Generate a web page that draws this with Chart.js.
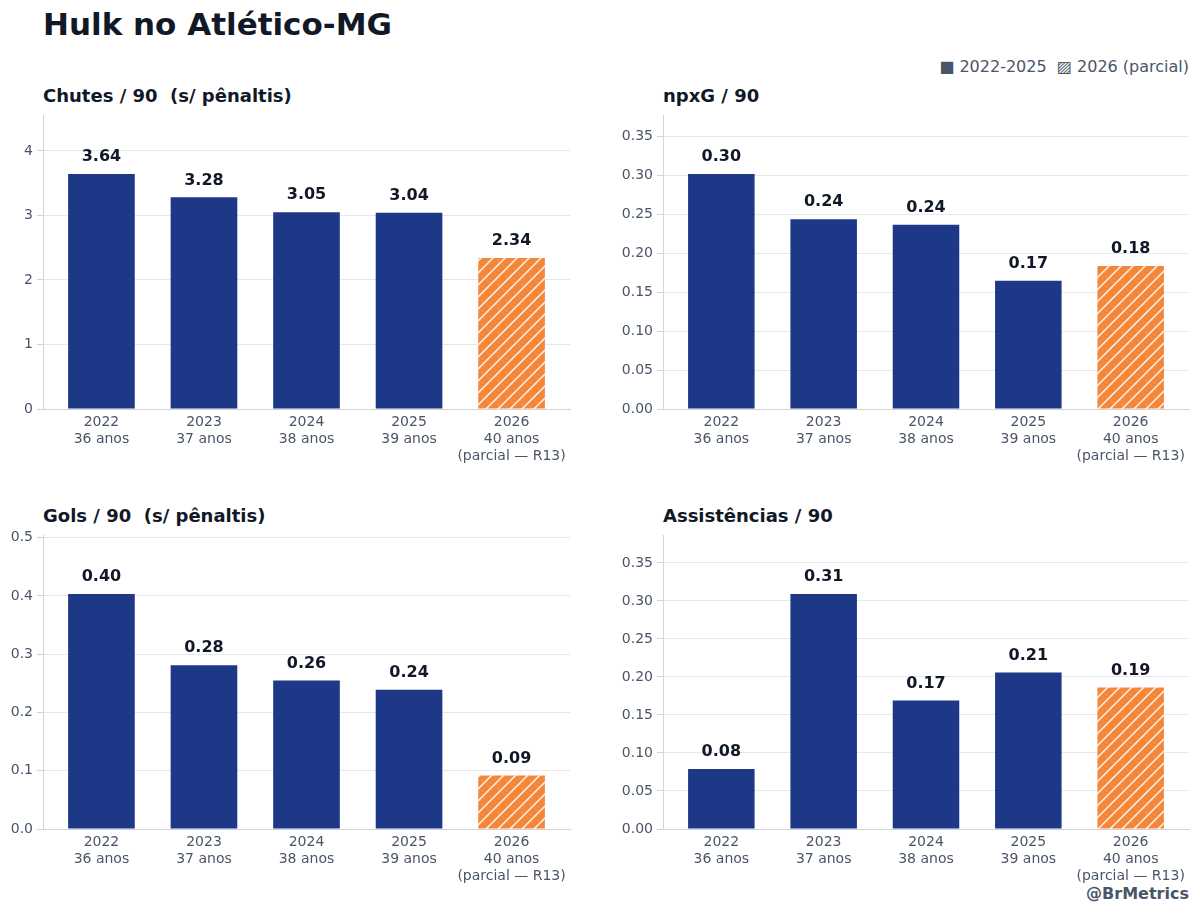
<!DOCTYPE html>
<html><head><meta charset="utf-8">
<script src="https://cdn.jsdelivr.net/npm/chart.js@4.4.1/dist/chart.umd.min.js"></script>
<style>
body{margin:0;width:1200px;height:914px;background:#fff;position:relative;font-family:"DejaVu Sans",sans-serif;overflow:hidden}
.t{position:absolute;color:#111827;font-weight:bold}
canvas{position:absolute}
</style></head><body>
<div class="t" style="left:43px;top:6px;font-size:31px">Hulk no Atlético-MG</div>
<div style="position:absolute;right:11px;top:57px;font-size:16px;color:#4a5568">■ 2022-2025 &nbsp;▨ 2026 (parcial)</div>
<div class="t" style="left:43px;top:85px;font-size:18px">Chutes / 90 &nbsp;(s/ pênaltis)</div>
<div class="t" style="left:663px;top:85px;font-size:18px">npxG / 90</div>
<div class="t" style="left:43px;top:505px;font-size:18px">Gols / 90 &nbsp;(s/ pênaltis)</div>
<div class="t" style="left:663px;top:505px;font-size:18px">Assistências / 90</div>
<div style="position:absolute;right:11px;top:884px;font-size:16px;font-weight:bold;color:#4a5568">@BrMetrics</div>
<canvas id="c1" style="left:0;top:103px" width="580" height="367"></canvas>
<canvas id="c2" style="left:600px;top:103px" width="600" height="367"></canvas>
<canvas id="c3" style="left:0;top:523px" width="580" height="367"></canvas>
<canvas id="c4" style="left:600px;top:523px" width="600" height="367"></canvas>
<script>
const categories=[["2022","36 anos"],["2023","37 anos"],["2024","38 anos"],["2025","39 anos"],["2026","40 anos","(parcial — R13)"]];
const chutes=[3.64,3.28,3.05,3.04,2.34];
const npxg=[0.302,0.244,0.237,0.165,0.184];
const gols=[0.403,0.281,0.255,0.239,0.092];
const assist=[0.079,0.309,0.169,0.206,0.186];
const navy='#1c3887', orange='#f5873a';
function hatch(){const c=document.createElement('canvas');c.width=12;c.height=12;const x=c.getContext('2d');
x.fillStyle=orange;x.fillRect(0,0,12,12);x.strokeStyle='rgba(255,255,255,0.9)';x.lineWidth=1.5;
x.beginPath();x.moveTo(-3,15);x.lineTo(15,-3);x.moveTo(-3,3);x.lineTo(3,-3);x.moveTo(9,15);x.lineTo(15,9);x.stroke();
return x.createPattern(c,'repeat');}
const labelPlugin={id:'vl',afterDatasetsDraw(ch){const ctx=ch.ctx;const m=ch.getDatasetMeta(0);
ctx.save();ctx.font='bold 16px "DejaVu Sans"';ctx.fillStyle='#111827';ctx.textAlign='center';ctx.textBaseline='bottom';
m.data.forEach((b,i)=>ctx.fillText(ch.data.datasets[0].data[i].y.toFixed(2),b.x,b.y-9));ctx.restore();}};
function make(id,data,step,dec,padR){
const max=Math.max(...data)*1.25;
const pts=data.map((v,i)=>({x:i,y:v}));
new Chart(document.getElementById(id),{type:'bar',
data:{datasets:[{data:pts,backgroundColor:[navy,navy,navy,navy,hatch()],barPercentage:0.65,categoryPercentage:1}]},
options:{responsive:false,animation:false,devicePixelRatio:1,
layout:{padding:{top:5,right:padR,left:0,bottom:0}},
plugins:{legend:{display:false},tooltip:{enabled:false}},
scales:{
x:{type:'linear',min:-0.57,max:4.57,offset:false,grid:{display:false,drawTicks:false},border:{color:'#d1d5db'},
ticks:{stepSize:1,maxRotation:0,autoSkip:false,color:'#4a5568',font:{size:14,family:'DejaVu Sans'},padding:5,callback:v=>categories[v]},
afterBuildTicks(s){s.ticks=[0,1,2,3,4].map(v=>({value:v}));},afterFit(s){s.height=61;}},
y:{min:0,max:max,grid:{color:'#e5e7eb',drawTicks:true,tickLength:6,tickColor:'#d1d5db'},border:{color:'#d1d5db'},
ticks:{stepSize:step,color:'#4a5568',font:{size:14,family:'DejaVu Sans'},padding:4,callback:v=>v.toFixed(dec)},
afterBuildTicks(s){const t=[];for(let k=0;k*step<=max+1e-9;k++)t.push({value:+(k*step).toFixed(4)});s.ticks=t;},
afterFit(s){s.width=43+(id==='c2'||id==='c4'?20:0);}}
}},plugins:[labelPlugin]});}
make('c1',chutes,1,0,10);
make('c2',npxg,0.05,2,11);
make('c3',gols,0.1,1,10);
make('c4',assist,0.05,2,11);
</script></body></html>
